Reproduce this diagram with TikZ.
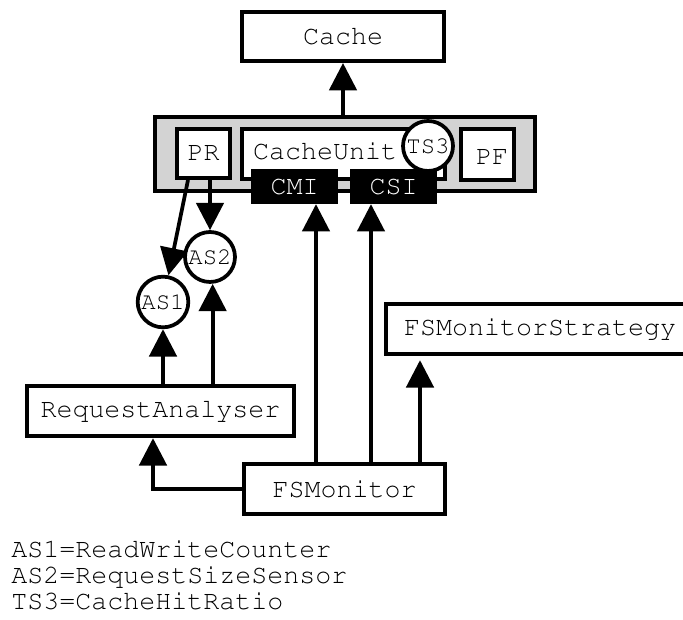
\documentclass[tikz,border=0pt]{standalone}
\usepackage[T1]{fontenc}
\usepackage{courier}
\usetikzlibrary{arrows.meta,calc}

\definecolor{panel}{RGB}{211,211,211}
\newcommand\boxfont{\ttfamily\fontsize{20}{26}\selectfont}
\newcommand\circfont{\ttfamily\fontsize{18}{22}\selectfont}

\tikzset{
  comp/.style={draw, line width=2.8pt, fill=white, inner sep=0pt, font=\boxfont},
  port/.style={draw, line width=2pt, fill=black, text=white, inner sep=0pt, font=\boxfont,
               minimum width=63pt, minimum height=24.5pt},
  sensor/.style={circle, draw, line width=2.8pt, fill=white, inner sep=0pt, font=\circfont},
  conn/.style={line width=2.8pt, -{Triangle[length=20.5pt, width=20.5pt]}},
  legend/.style={anchor=base west, inner sep=0pt, font=\boxfont}
}

\begin{document}
\begin{tikzpicture}[x=0.75pt, y=-0.75pt]
  \useasboundingbox (0,0) rectangle (683,620);
  \clip (0,0) rectangle (683,620);

  % top-level cache
  \node[comp, minimum width=152pt, minimum height=37pt] (cache) at (343,36.5) {Cache};

  % cache unit panel with its parts
  \node[comp, fill=panel, minimum width=285.5pt, minimum height=56pt] (panel) at (345,154) {};
  \node[comp, minimum width=40pt, minimum height=37pt] (pr) at (203.5,153.5) {PR};
  \node[comp, minimum width=152.5pt, minimum height=38pt] (cu) at (343.5,154) {};
  \node[font=\boxfont, inner sep=0pt] (cutext) at (325,151) {CacheUnit};
  \node[comp, minimum width=40pt, minimum height=38.5pt] (pf) at (487.5,154.5) {};
  \node[font=\boxfont, inner sep=0pt] (pftext) at (492,157) {PF};
  \node[sensor, minimum size=37.5pt] (ts3) at (428,146) {TS3};
  \node[port] (cmi) at (294.5,186.5) {CMI};
  \node[port] (csi) at (393.5,186.5) {CSI};

  % analysis sensors
  \node[sensor, minimum size=37.5pt] (as2) at (210,257) {AS2};
  \node[sensor, minimum size=38pt] (as1) at (163,302) {AS1};

  % lower components
  \node[comp, minimum width=200.5pt, minimum height=38pt] (ra) at (160.5,411) {RequestAnalyser};
  \node[comp, minimum width=231.5pt, minimum height=38pt] (fsms) at (540,329) {};
  \node[font=\boxfont, inner sep=0pt] (fsmstext) at (540,329) {FSMonitorStrategy};
  \node[comp, minimum width=151pt, minimum height=38pt] (fsm) at (344.5,489) {FSMonitor};

  % connectors
  \draw[conn] (cache.south |- panel.north) -- (cache.south);

  \coordinate (prl) at ($(pr.south)+(-15.5,0)$);
  \draw[conn] (prl) -- (as1);
  \draw[conn] (pr.south -| as2) -- (as2.north);

  \draw[conn] (as1 |- ra.north) -- (as1.south);
  \draw[conn] ([xshift=2pt]as2.south |- ra.north) -- ([xshift=2pt]as2.south);

  \coordinate (fcm) at ($(fsm.north)+(-28.5,0)$);
  \coordinate (fcs) at ($(fsm.north)+(26.5,0)$);
  \coordinate (fst) at ($(fsm.north)+(75.5,0)$);
  \draw[conn] (fcm) -- (fcm |- cmi.south);
  \draw[conn] (fcs) -- (fcs |- csi.south);
  \draw[conn, shorten >=3pt] (fst) -- (fst |- fsms.south);

  \coordinate (rab) at ($(ra.south)+(-7.5,0)$);
  \draw[conn] (fsm.west) -| (rab);

  % legend
  \node[legend] (l1) at (11,558) {AS1=ReadWriteCounter};
  \node[legend] (l2) at (11,584) {AS2=RequestSizeSensor};
  \node[legend] (l3) at (11,610) {TS3=CacheHitRatio};
\end{tikzpicture}
\end{document}
